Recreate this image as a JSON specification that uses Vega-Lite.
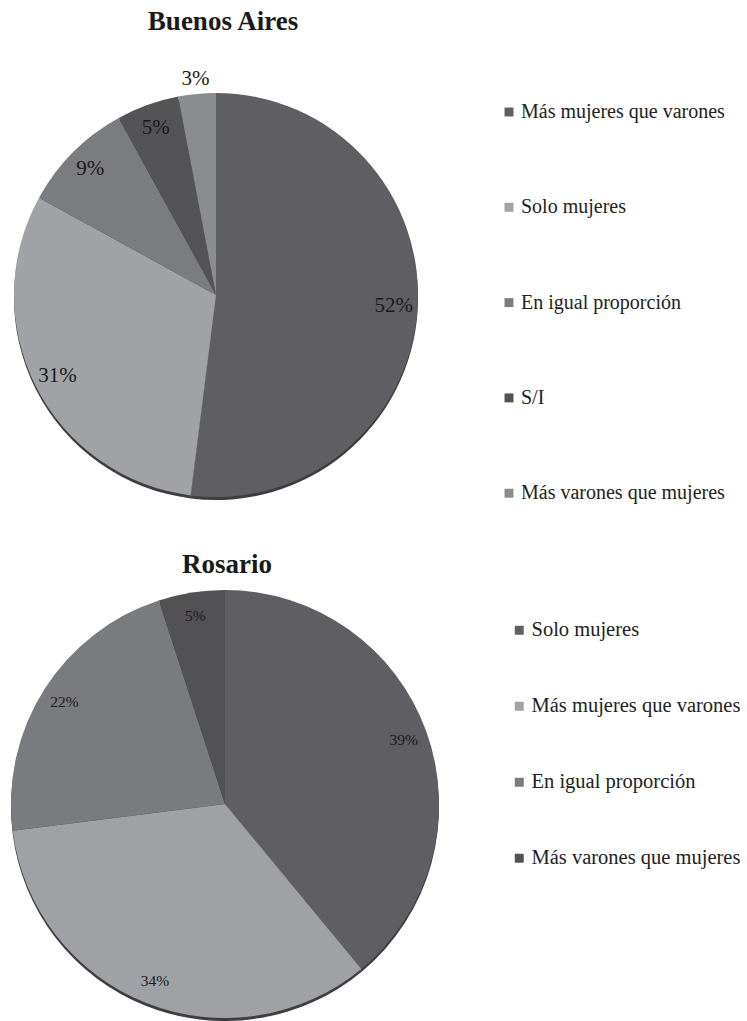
{
  "$schema": "https://vega.github.io/schema/vega-lite/v6.json",
  "padding": {"top": 8, "left": 0, "right": 0, "bottom": 0},
  "background": "white",
  "spacing": 18,
  "config": {
    "font": "Liberation Serif",
    "view": {"stroke": null},
    "title": {"font": "Liberation Serif", "fontSize": 27, "fontWeight": "bold", "color": "#1a1a1a", "anchor": "middle"},
    "legend": {"labelFont": "Liberation Serif"}
  },
  "datasets": {
    "ba": [
      {"categoria": "Más mujeres que varones", "pct": 0.52, "orden": 1},
      {"categoria": "Solo mujeres", "pct": 0.31, "orden": 2},
      {"categoria": "En igual proporción", "pct": 0.09, "orden": 3},
      {"categoria": "S/I", "pct": 0.05, "orden": 4},
      {"categoria": "Más varones que mujeres", "pct": 0.03, "orden": 5}
    ],
    "ros": [
      {"categoria": "Solo mujeres", "pct": 0.39, "orden": 1},
      {"categoria": "Más mujeres que varones", "pct": 0.34, "orden": 2},
      {"categoria": "En igual proporción", "pct": 0.22, "orden": 3},
      {"categoria": "Más varones que mujeres", "pct": 0.05, "orden": 4}
    ]
  },
  "resolve": {"scale": {"color": "independent"}, "legend": {"color": "independent"}},
  "vconcat": [
    {
      "title": {"text": "Buenos Aires", "offset": 21, "dx": 7},
      "width": 432,
      "height": 476,
      "data": {"name": "ba"},
      "layer": [
        {
          "mark": {"type": "arc", "radius": 202, "yOffset": 3, "color": "#3e3e41"},
          "encoding": {
            "theta": {"field": "pct", "type": "quantitative", "stack": true},
            "order": {"field": "orden", "type": "quantitative"}
          }
        },
        {
          "mark": {"type": "arc", "radius": 202},
          "encoding": {
            "theta": {"field": "pct", "type": "quantitative", "stack": true},
            "order": {"field": "orden", "type": "quantitative"},
            "color": {
              "field": "categoria",
              "type": "nominal",
              "scale": {
                "domain": ["Más mujeres que varones", "Solo mujeres", "En igual proporción", "S/I", "Más varones que mujeres"],
                "range": ["#5f5f63", "#a1a2a6", "#7b7c80", "#545457", "#8b8c90"]
              },
              "sort": null,
              "legend": {
                "title": null,
                "orient": "none",
                "legendX": 499,
                "legendY": 45,
                "labelFont": "Liberation Serif",
                "labelFontSize": 20,
                "labelColor": "#222222",
                "labelLimit": 400,
                "labelOffset": 2,
                "symbolType": "square",
                "symbolSize": 80,
                "symbolStrokeWidth": 0,
                "rowPadding": 75.3
              }
            }
          }
        },
        {
          "mark": {"type": "text", "radius": 178, "font": "Liberation Serif", "fontSize": 21, "color": "#1a1a1a"},
          "encoding": {
            "theta": {"field": "pct", "type": "quantitative", "stack": true},
            "order": {"field": "orden", "type": "quantitative"},
            "text": {"field": "pct", "type": "quantitative", "format": ".0%"},
            "opacity": {"condition": {"test": "datum.pct >= 0.04", "value": 1}, "value": 0}
          }
        },
        {
          "mark": {"type": "text", "radius": 217, "font": "Liberation Serif", "fontSize": 21, "color": "#1a1a1a"},
          "encoding": {
            "theta": {"field": "pct", "type": "quantitative", "stack": true},
            "order": {"field": "orden", "type": "quantitative"},
            "text": {"field": "pct", "type": "quantitative", "format": ".0%"},
            "opacity": {"condition": {"test": "datum.pct < 0.04", "value": 1}, "value": 0}
          }
        }
      ]
    },
    {
      "title": {"text": "Rosario", "offset": 11, "dx": 2},
      "width": 450,
      "height": 428,
      "data": {"name": "ros"},
      "layer": [
        {
          "mark": {"type": "arc", "radius": 214, "yOffset": 3, "color": "#3e3e41"},
          "encoding": {
            "theta": {"field": "pct", "type": "quantitative", "stack": true},
            "order": {"field": "orden", "type": "quantitative"}
          }
        },
        {
          "mark": {"type": "arc", "radius": 214},
          "encoding": {
            "theta": {"field": "pct", "type": "quantitative", "stack": true},
            "order": {"field": "orden", "type": "quantitative"},
            "color": {
              "field": "categoria",
              "type": "nominal",
              "scale": {
                "domain": ["Solo mujeres", "Más mujeres que varones", "En igual proporción", "Más varones que mujeres"],
                "range": ["#5f5f63", "#a0a1a5", "#7a7b7f", "#525255"]
              },
              "sort": null,
              "legend": {
                "title": null,
                "orient": "none",
                "legendX": 509,
                "legendY": 30,
                "labelFont": "Liberation Serif",
                "labelFontSize": 20.5,
                "labelColor": "#222222",
                "labelLimit": 400,
                "labelOffset": 2,
                "symbolType": "square",
                "symbolSize": 80,
                "symbolStrokeWidth": 0,
                "rowPadding": 55
              }
            }
          }
        },
        {
          "mark": {"type": "text", "radius": 190, "font": "Liberation Serif", "fontSize": 15.5, "color": "#1a1a1a"},
          "encoding": {
            "theta": {"field": "pct", "type": "quantitative", "stack": true},
            "order": {"field": "orden", "type": "quantitative"},
            "text": {"field": "pct", "type": "quantitative", "format": ".0%"}
          }
        }
      ]
    }
  ]
}
